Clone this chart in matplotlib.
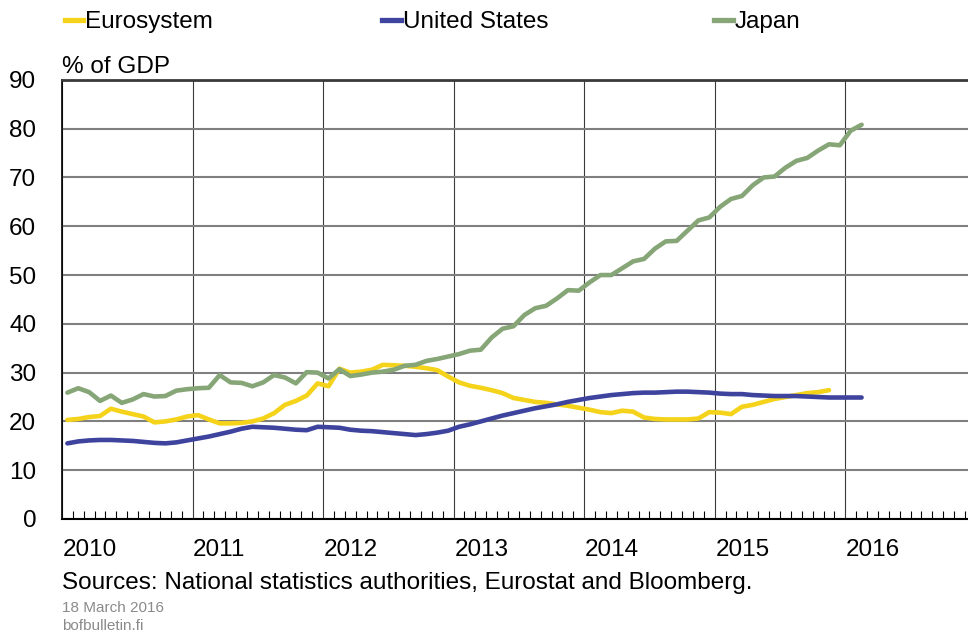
import matplotlib.pyplot as plt
import numpy as np
from matplotlib.lines import Line2D

plt.rcParams['font.family'] = ['Liberation Sans', 'DejaVu Sans']

# monthly data, Jan 2010 onwards
eurosystem = [20.3, 20.5, 20.9, 21.1, 22.6, 22.0, 21.5, 21.0, 19.8, 20.0, 20.4, 21.0,
              21.3, 20.4, 19.6, 19.6, 19.7, 20.0, 20.6, 21.7, 23.4, 24.2, 25.3, 27.8,
              27.2, 30.8, 30.0, 30.2, 30.6, 31.6, 31.5, 31.4, 31.2, 30.9, 30.5, 29.2,
              28.0, 27.3, 26.9, 26.4, 25.8, 24.8, 24.4, 24.0, 23.8, 23.5, 23.2, 22.8,
              22.4, 21.9, 21.7, 22.2, 22.0, 20.8, 20.5, 20.4, 20.4, 20.4, 20.6, 21.9,
              21.8, 21.5, 23.0, 23.4, 24.0, 24.6, 25.0, 25.4, 25.8, 26.0, 26.4]
united_states = [15.5, 15.9, 16.1, 16.2, 16.2, 16.1, 16.0, 15.8, 15.6, 15.5, 15.7, 16.1,
                 16.5, 16.9, 17.4, 17.9, 18.5, 18.9, 18.8, 18.7, 18.5, 18.3, 18.2, 18.9,
                 18.8, 18.7, 18.3, 18.1, 18.0, 17.8, 17.6, 17.4, 17.2, 17.4, 17.7, 18.1,
                 18.9, 19.4, 20.0, 20.6, 21.2, 21.7, 22.2, 22.7, 23.1, 23.5, 24.0, 24.4,
                 24.8, 25.1, 25.4, 25.6, 25.8, 25.9, 25.9, 26.0, 26.1, 26.1, 26.0, 25.9,
                 25.7, 25.6, 25.6, 25.4, 25.3, 25.2, 25.2, 25.2, 25.1, 25.0, 24.9, 24.9,
                 24.9, 24.9]
japan = [25.9, 26.8, 26.0, 24.2, 25.3, 23.8, 24.5, 25.6, 25.1, 25.2, 26.3, 26.6,
         26.8, 26.9, 29.5, 28.0, 27.9, 27.2, 28.0, 29.5, 29.0, 27.8, 30.1, 30.0,
         28.8, 30.7, 29.3, 29.6, 30.0, 30.2, 30.6, 31.4, 31.6, 32.4, 32.8, 33.3,
         33.8, 34.5, 34.7, 37.2, 39.0, 39.5, 41.8, 43.2, 43.7, 45.2, 46.9, 46.8,
         48.5, 50.0, 50.0, 51.4, 52.8, 53.3, 55.4, 56.9, 57.0, 59.1, 61.2, 61.8,
         64.0, 65.6, 66.2, 68.4, 70.0, 70.2, 72.0, 73.4, 74.0, 75.5, 76.8, 76.6,
         79.6, 80.8]
years = [2010, 2011, 2012, 2013, 2014, 2015, 2016]
series = ['Eurosystem', 'United States', 'Japan']
colors = ['#F4D31A', '#3E449E', '#87A677']


def month_axis(n):
    return 2010 + (np.arange(n) + 0.5) / 12


fig = plt.figure(figsize=(9.68, 6.34), dpi=100)
ax = fig.add_axes([0.064, 0.1814, 0.936, 0.6926])

ax.set_xlim(2010, 2016.94)
ax.set_ylim(0, 90)

ax.set_yticks(np.arange(0, 91, 10))
ax.set_xticks(years)
ax.set_xticks(np.arange(2010, 2017, 1 / 12), minor=True)
ax.set_xticklabels([])

ax.grid(axis='y', color='#7f7f7f', lw=1.5)
ax.grid(axis='x', color='#3a3a3a', lw=0.8)
ax.set_axisbelow(True)

for name, vals, col in zip(series, [eurosystem, united_states, japan], colors):
    ax.plot(month_axis(len(vals)), vals, color=col, lw=3.3, solid_joinstyle='round',
            solid_capstyle='round', zorder=3)

ax.spines['right'].set_visible(False)
ax.spines['top'].set_color('#3a3a3a')
ax.spines['top'].set_linewidth(2.0)
ax.spines['left'].set_color('black')
ax.spines['left'].set_linewidth(1.2)
ax.spines['bottom'].set_color('black')
ax.spines['bottom'].set_linewidth(1.5)

ax.tick_params(axis='y', length=0, pad=18.5, labelsize=17.5)
ax.tick_params(axis='x', which='major', length=0)
ax.tick_params(axis='x', which='minor', direction='in', length=5.5, width=0.8,
               color='black')

# year labels, left-aligned at the gridline
for yr in years:
    ax.text(yr + 0.005, -4.0, str(yr), ha='left', va='top', fontsize=17.5,
            clip_on=False)

ax.text(0.0, 1.004, '% of GDP', transform=ax.transAxes, ha='left', va='bottom',
        fontsize=17.5)

# legend
leg_x = [0.067, 0.395, 0.738]
for x0, name, col in zip(leg_x, series, colors):
    fig.add_artist(Line2D([x0, x0 + 0.019], [0.968, 0.968], color=col, lw=3.8,
                          transform=fig.transFigure))
    fig.text(x0 + 0.021, 0.966, name, ha='left', va='center', fontsize=17.5)

fig.text(0.064, 0.080, 'Sources: National statistics authorities, Eurostat and Bloomberg.',
         ha='left', va='center', fontsize=17.5)
fig.text(0.064, 0.041, '18 March 2016', ha='left', va='center', fontsize=11,
         color='#8a8a8a')
fig.text(0.064, 0.013, 'bofbulletin.fi', ha='left', va='center', fontsize=11,
         color='#8a8a8a')

fig.savefig('out.png', dpi=100)
